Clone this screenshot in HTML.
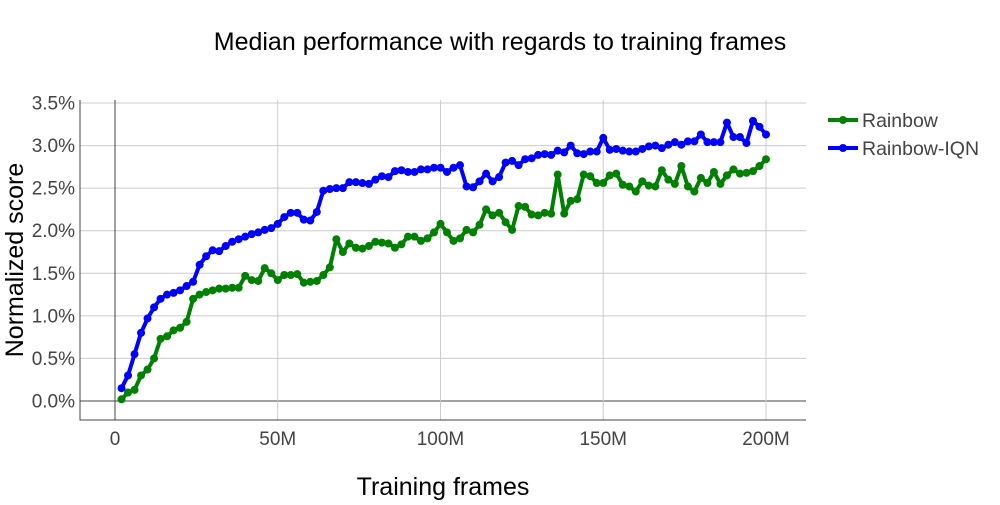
<!DOCTYPE html>
<html><head><meta charset="utf-8"><style>
body{margin:0;background:#fff;font-family:"Liberation Sans",sans-serif}
svg text{font-family:"Liberation Sans",sans-serif}
</style></head><body>
<svg id="c" width="1000" height="500">
<text x="500" y="50" text-anchor="middle" font-size="25" fill="#000">Median performance with regards to training frames</text>
<g id="grid"></g><g id="series"></g>
<text x="443" y="495" text-anchor="middle" font-size="25" fill="#000">Training frames</text>
<text transform="translate(23,260) rotate(-90)" text-anchor="middle" font-size="25" fill="#000">Normalized score</text>
<g>
<g><line x1="828" y1="120" x2="858" y2="120" stroke="#008000" stroke-width="4"/><circle cx="843" cy="120" r="4" fill="#008000"/><text x="862" y="127" font-size="19.5" fill="#444">Rainbow</text></g>
<g><line x1="828" y1="148" x2="858" y2="148" stroke="#0000ff" stroke-width="4"/><circle cx="843" cy="148" r="4" fill="#0000ff"/><text x="862" y="155" font-size="19.5" fill="#444">Rainbow-IQN</text></g>
</g>
</svg>
<script>
const rainbow=[0.02,0.1,0.13,0.3,0.37,0.5,0.73,0.76,0.83,0.86,0.93,1.2,1.25,1.28,1.3,1.32,1.32,1.33,1.33,1.47,1.42,1.41,1.56,1.5,1.42,1.48,1.48,1.49,1.39,1.4,1.41,1.48,1.57,1.9,1.75,1.85,1.8,1.79,1.82,1.87,1.86,1.85,1.8,1.84,1.93,1.93,1.88,1.91,1.98,2.08,1.98,1.88,1.91,2.01,1.98,2.07,2.25,2.18,2.21,2.1,2.01,2.29,2.28,2.19,2.18,2.21,2.2,2.66,2.2,2.35,2.37,2.66,2.64,2.56,2.56,2.65,2.67,2.54,2.52,2.46,2.58,2.53,2.52,2.71,2.6,2.55,2.76,2.52,2.46,2.62,2.56,2.69,2.55,2.65,2.72,2.67,2.68,2.7,2.76,2.84];
const rainbowIqn=[0.15,0.3,0.55,0.8,0.97,1.1,1.2,1.25,1.27,1.3,1.35,1.4,1.6,1.7,1.77,1.76,1.82,1.87,1.9,1.93,1.96,1.98,2.01,2.03,2.08,2.16,2.21,2.21,2.13,2.12,2.22,2.47,2.49,2.5,2.5,2.57,2.57,2.56,2.55,2.6,2.64,2.63,2.7,2.71,2.69,2.69,2.72,2.72,2.74,2.74,2.69,2.74,2.77,2.52,2.51,2.58,2.67,2.58,2.63,2.8,2.82,2.77,2.84,2.85,2.89,2.9,2.89,2.94,2.92,3.0,2.91,2.9,2.93,2.93,3.09,2.95,2.96,2.94,2.93,2.93,2.96,2.99,3.0,2.97,3.01,3.04,3.01,3.05,3.05,3.13,3.04,3.04,3.04,3.27,3.1,3.1,3.03,3.29,3.22,3.13];
const xTicks=[0,50,100,150,200];
const xTickLabels=["0","50M","100M","150M","200M"];
const yTicks=[0,0.5,1,1.5,2,2.5,3,3.5];
const yTickLabels=["0.0%","0.5%","1.0%","1.5%","2.0%","2.5%","3.0%","3.5%"];
const NS="http://www.w3.org/2000/svg";
const L=80,R=806,T=100,B=420;
const xs=v=>115+v*(766-115)/200;
const ys=v=>401-v*(401-103)/3.5;
function mk(tag,attrs,parent){const e=document.createElementNS(NS,tag);for(const k in attrs)e.setAttribute(k,attrs[k]);parent.appendChild(e);return e;}
const grid=document.getElementById('grid');
yTicks.forEach((t,i)=>{
  const ln=mk('line',{x1:L,x2:R,y1:ys(t),y2:ys(t),stroke:t===0?'#444':'#ccc','stroke-width':1},grid);
  
  
  const tx=mk('text',{x:75,y:ys(t)+6.5,'text-anchor':'end','font-size':19,fill:'#444'},grid);
  tx.textContent=yTickLabels[i];
  
  
});
xTicks.forEach((t,i)=>{
  const ln=mk('line',{x1:xs(t),x2:xs(t),y1:T,y2:B,stroke:t===0?'#444':'#ccc','stroke-width':1},grid);
  
  
  const tx=mk('text',{x:xs(t),y:445,'text-anchor':'middle','font-size':19,fill:'#444'},grid);
  tx.textContent=xTickLabels[i];
  
  
});
const ax=mk('path',{d:`M${L} ${T}V${B}H${R}`,fill:'none',stroke:'#444','stroke-width':1},grid);


const ser=document.getElementById('series');
function draw(vals,color,name){
  const g=mk('g',{},ser);
  
  
  const pts=vals.map((v,i)=>[xs((i+1)*2),ys(v)]);
  const p=mk('polyline',{points:pts.map(p=>p.join(',')).join(' '),fill:'none',stroke:color,'stroke-width':4,'stroke-linejoin':'round'},g);
  
  
  pts.forEach(q=>{
    const c=mk('circle',{cx:q[0],cy:q[1],r:4,fill:color},g);
    
    
  });
}
draw(rainbow,'#008000','rainbow-series');
draw(rainbowIqn,'#0000ff','rainbow-iqn-series');
</script>
</body></html>
